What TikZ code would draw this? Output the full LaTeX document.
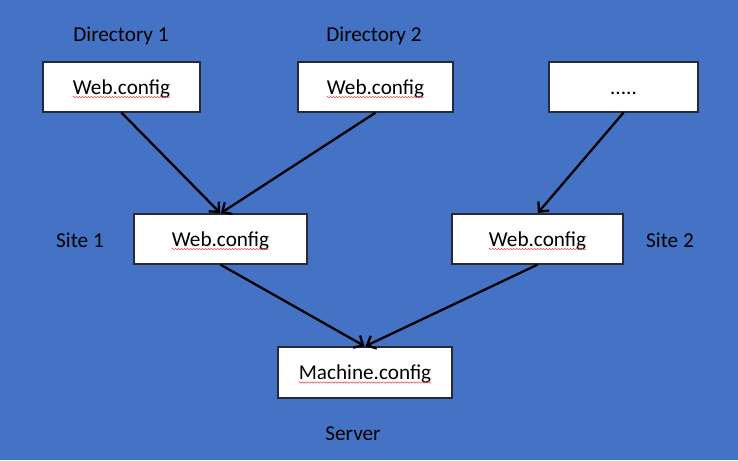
\documentclass[tikz,border=0pt]{standalone}
\usepackage{fontspec}
\setmainfont{Carlito}
\usetikzlibrary{arrows.meta,decorations.pathmorphing}
\definecolor{bgblue}{RGB}{68,114,196}
\definecolor{boxline}{RGB}{38,42,56}
\definecolor{wavered}{RGB}{235,70,70}
\tikzset{
  box/.style={draw=boxline, line width=1.3pt, fill=white, inner sep=0pt},
  txt/.style={inner sep=0pt, text=black, yshift=-1.5pt},
  dots/.style={inner sep=0pt, text=black, anchor=base},
  lbl/.style={inner sep=0pt, text=black},
  wave/.style={draw=wavered, line width=0.5pt, decorate, decoration={snake, segment length=3pt, amplitude=0.7pt}},
  conn/.style={line width=2.3pt, draw=black, -{Straight Barb[length=7.5pt,width=14pt,line width=2.3pt]}, shorten >=0.5pt}
}
\begin{document}
\begin{tikzpicture}[x=1pt,y=-1pt, font=\fontsize{21.2}{25}\selectfont]
\useasboundingbox (0,0) rectangle (738,460);
\fill[bgblue] (0,0) rectangle (738,460);

\node[box, minimum width=157pt, minimum height=50pt] (d1) at (121.5,87) {};
\node[box, minimum width=155pt, minimum height=50pt] (d2) at (375.5,87) {};
\node[box, minimum width=149pt, minimum height=50pt] (d3) at (623.5,87) {};
\node[box, minimum width=173pt, minimum height=50pt] (s1) at (220.5,239) {};
\node[box, minimum width=171pt, minimum height=50pt] (s2) at (537.5,239) {};
\node[box, minimum width=174pt, minimum height=51pt] (m) at (365,372.5) {};

\node[txt] (d1t) at (d1) {Web.config};
\node[txt] (d2t) at (d2) {Web.config};
\node[dots] (d3t) at (d3.center |- d1t.base) {.....};
\node[txt] (s1t) at (s1) {Web.config};
\node[txt] (s2t) at (s2) {Web.config};
\node[txt] (mt) at (m) {Machine.config};

\foreach \n in {d1t,d2t,s1t,s2t,mt}{
  \draw[wave] ([yshift=-3pt]\n.base west) -- ([yshift=-3pt]\n.base east);
}

\node[lbl] (ld1) at (121,35.5) {Directory 1};
\node[lbl] (ld2) at (374,35.5) {Directory 2};
\node[lbl] (ls1) at (80,240.5) {Site 1};
\node[lbl] (ls2) at (670,240.5) {Site 2};
\node[lbl] (lsv) at (353,433.5) {Server};

\draw[conn] (d1.south) -- (s1.north);
\draw[conn] (d2.south) -- (s1.north);
\draw[conn] (d3.south) -- (s2.north);
\draw[conn] (s1.south) -- (m.north);
\draw[conn] (s2.south) -- (m.north);
\end{tikzpicture}
\end{document}
